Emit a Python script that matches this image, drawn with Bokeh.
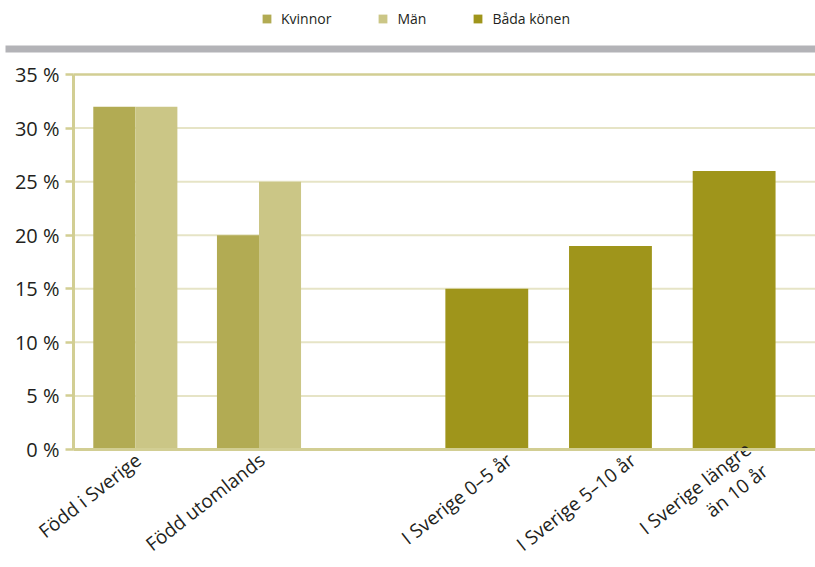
import math
from bokeh.plotting import figure
from bokeh.models import (Range1d, FixedTicker, Legend, LegendItem,
                          ColumnDataSource, LinearAxis)
from bokeh.core.properties import value
from bokeh.transform import dodge
from bokeh.layouts import column
from bokeh.embed import file_html
from bokeh.resources import INLINE

# ---- data ----
categories = ["Född i Sverige", "Född utomlands", " ",
              "I Sverige 0–5 år", "I Sverige 5–10 år", "I Sverige längre\nän 10 år"]
gender_categories = ["Född i Sverige", "Född utomlands"]
kvinnor = [32, 20]
man = [32, 25]
both_categories = ["I Sverige 0–5 år", "I Sverige 5–10 år", "I Sverige längre\nän 10 år"]
bada = [15, 19, 26]
series_names = ["Kvinnor", "Män", "Båda könen"]
y_ticks = [0, 5, 10, 15, 20, 25, 30, 35]
y_tick_labels = ["0 %", "5 %", "10 %", "15 %", "20 %", "25 %", "30 %", "35 %"]

# ---- style / layout ----
colors = ["#b2ab53", "#cbc686", "#9f951b"]
axis_color = "#d2ce93"
grid_color = "#e6e4c6"
text_color = "#231f20"
font = "Open Sans"
W, H, TOP_H = 815, 567, 57
AXIS_LEFT = 73                 # pixel x of the y axis
FRAME_TOP, ZERO_Y = 74, 449    # pixel y of 35 % and of 0 %
LABEL_ANGLE = math.radians(38)

# ---- top strip: legend + grey bar ----
top = figure(width=W, height=TOP_H, x_range=Range1d(0, W), y_range=Range1d(TOP_H, 0),
             toolbar_location=None, output_backend="svg", min_border=0,
             x_axis_location=None, y_axis_location=None)
top.frame_align = False
top.grid.visible = False
top.outline_line_color = None
top.quad(left=5, right=W, top=45, bottom=52, color="#b3b3b7", line_color=None)
leg_renderers = [top.vbar(x=[0], top=[0], bottom=[0], width=0, color=c, line_color=None)
                 for c in colors]
legend = Legend(items=[LegendItem(label=n, renderers=[r]) for n, r in zip(series_names, leg_renderers)],
                orientation="horizontal", location=(261, 29),
                glyph_width=11, glyph_height=11, label_standoff=9, spacing=46,
                label_text_font=font, label_text_font_size="14px", label_text_color=text_color,
                border_line_color=None, background_fill_alpha=0, padding=0, margin=0,
                label_height=10)
top.add_layout(legend)

# ---- main chart (numeric x: category i is centred at i + 0.5) ----
n_cat = len(categories)
x_start = -AXIS_LEFT * n_cat / (W - AXIS_LEFT)
px_per_unit = (ZERO_Y - FRAME_TOP) / 35
y_start = -(H - ZERO_Y) / px_per_unit
y_end = 35 + (FRAME_TOP - TOP_H) / px_per_unit
pos = {c: i + 0.5 for i, c in enumerate(categories)}

p = figure(width=W, height=H - TOP_H, x_range=Range1d(x_start, n_cat),
           y_range=Range1d(y_start, y_end),
           toolbar_location=None, output_backend="svg", x_axis_location=None,
           min_border_left=0, min_border_right=0, min_border_top=0, min_border_bottom=0)
p.frame_align = False
p.outline_line_color = None
p.grid.visible = False

# grid lines between the axis and the right edge
grid_src = ColumnDataSource(dict(y=y_ticks[1:-1], x0=[0] * (len(y_ticks) - 2),
                                 x1=[n_cat] * (len(y_ticks) - 2)))
p.segment(x0="x0", x1="x1", y0="y", y1="y", source=grid_src, line_color=grid_color, line_width=2)

src_g = ColumnDataSource(dict(x=[pos[c] for c in gender_categories], kvinnor=kvinnor, man=man))
src_b = ColumnDataSource(dict(x=[pos[c] for c in both_categories], bada=bada))

p.vbar(x=dodge("x", -0.17), top="kvinnor", width=0.34, source=src_g,
       fill_color=colors[0], line_color=None)
p.vbar(x=dodge("x", 0.17), top="man", width=0.34, source=src_g,
       fill_color=colors[1], line_color=None)
p.vbar(x=dodge("x", -0.158), top="bada", width=0.67, source=src_b,
       fill_color=colors[2], line_color=None)

# y axis pinned at x = 0
p.yaxis.fixed_location = 0
p.yaxis.bounds = (0, 35)
p.yaxis.ticker = FixedTicker(ticks=y_ticks)
p.yaxis.major_label_overrides = {t: l for t, l in zip(y_ticks, y_tick_labels)}
p.yaxis.axis_line_color = axis_color
p.yaxis.axis_line_width = 3
p.yaxis.major_tick_line_color = axis_color
p.yaxis.major_tick_line_width = 2.5
p.yaxis.major_tick_out = 8
p.yaxis.major_tick_in = 0
p.yaxis.minor_tick_line_color = None
p.yaxis.major_label_standoff = 6
p.yaxis.major_label_text_font = font
p.yaxis.major_label_text_font_size = "20px"
p.yaxis.major_label_text_color = text_color

# x axis line at 0 % and top border line at 35 %
bottom_axis = LinearAxis(fixed_location=0, bounds=(0, n_cat), axis_line_color=axis_color,
                         axis_line_width=3, ticker=FixedTicker(ticks=[]), major_label_standoff=0,
                         major_tick_line_color=None, minor_tick_line_color=None,
                         major_tick_out=0, major_tick_in=0)
p.add_layout(bottom_axis, "below")
top_axis = LinearAxis(fixed_location=35, bounds=(0, n_cat), axis_line_color=axis_color,
                      axis_line_width=2.5, ticker=FixedTicker(ticks=[]), major_label_standoff=0,
                      major_tick_line_color=None, minor_tick_line_color=None,
                      major_tick_out=0, major_tick_in=0)
p.add_layout(top_axis, "above")

# category labels under the axis (rotated)
label_cats = gender_categories + both_categories
lab_src = ColumnDataSource(dict(x=[pos[c] for c in label_cats], y=[0] * len(label_cats),
                                text=label_cats))
p.text(x="x", y="y", text="text", source=lab_src, angle=LABEL_ANGLE,
       x_offset=3, y_offset=8, text_align="right", text_baseline="middle",
       text_font=value(font), text_font_size="19px", text_color=text_color,
       text_line_height=1.05)

layout = column(top, p, spacing=0)
open("out.html", "w").write(file_html(layout, INLINE))
